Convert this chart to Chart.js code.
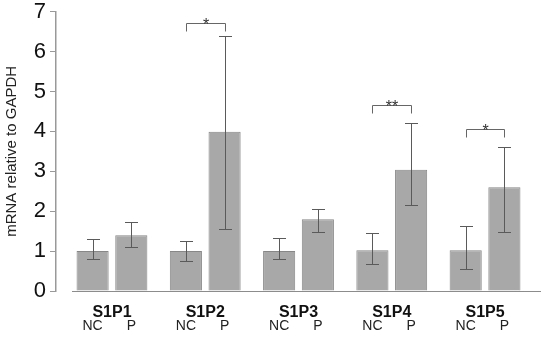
<!DOCTYPE html>
<html>
<head>
<meta charset="utf-8">
<script src="https://cdn.jsdelivr.net/npm/chart.js@4.4.1/dist/chart.umd.min.js"></script>
<style>
  html, body { margin: 0; padding: 0; background: #fff; }
  #wrap { width: 550px; height: 341px; }
</style>
</head>
<body>
<div id="wrap"><canvas id="grafico" width="550" height="341"></canvas></div>
<script>
// Grupos y medias
const grupos = ["S1P1", "S1P2", "S1P3", "S1P4", "S1P5"];
const subEtiquetas = ["NC", "P"];
const mediasNC = [1.0, 1.0, 1.0, 1.02, 1.02];
const mediasP = [1.40, 3.99, 1.80, 3.04, 2.60];

// Barras de error (extremo superior / inferior)
const altoNC = [1.30, 1.25, 1.33, 1.46, 1.63];
const bajoNC = [0.81, 0.75, 0.79, 0.68, 0.56];
const altoP = [1.73, 6.38, 2.05, 4.22, 3.60];
const bajoP = [1.11, 1.55, 1.48, 2.16, 1.49];

// Significancia
const marcas = ["", "*", "", "**", "*"];
const alturaCorchete = [null, 6.72, null, 4.67, 4.06];

const ticksY = [0, 1, 2, 3, 4, 5, 6, 7];

const FUENTE = "'Liberation Sans', Arial, sans-serif";

// Barras de error
const pluginErrores = {
    id: "errores",
    afterDatasetsDraw(chart) {
        const ctx = chart.ctx;
        const y = chart.scales.y;
        const pares = [[altoNC, bajoNC], [altoP, bajoP]];
        ctx.save();
        ctx.strokeStyle = "#5a5a5a";
        ctx.lineWidth = 1;
        chart.data.datasets.forEach((ds, d) => {
            const meta = chart.getDatasetMeta(d);
            meta.data.forEach((bar, i) => {
                const x = Math.round(bar.x) + 0.5;
                const yHi = Math.round(y.getPixelForValue(pares[d][0][i])) + 0.5;
                const yLo = Math.round(y.getPixelForValue(pares[d][1][i])) + 0.5;
                ctx.beginPath();
                ctx.moveTo(x, yHi);
                ctx.lineTo(x, yLo);
                ctx.moveTo(x - 6.5, yHi);
                ctx.lineTo(x + 6.5, yHi);
                ctx.moveTo(x - 6.5, yLo);
                ctx.lineTo(x + 6.5, yLo);
                ctx.stroke();
            });
        });
        ctx.restore();
    }
};

// Corchetes de significancia, línea base y etiquetas NC / P
const pluginExtras = {
    id: "extras",
    afterDraw(chart) {
        const ctx = chart.ctx;
        const area = chart.chartArea;
        const y = chart.scales.y;
        const metaNC = chart.getDatasetMeta(0);
        const metaP = chart.getDatasetMeta(1);
        ctx.save();

        // línea base
        ctx.strokeStyle = "#8c8c8c";
        ctx.lineWidth = 1;
        ctx.beginPath();
        ctx.moveTo(area.left + 16, Math.round(area.bottom) + 0.5);
        ctx.lineTo(area.right, Math.round(area.bottom) + 0.5);
        ctx.stroke();

        // corchetes
        ctx.strokeStyle = "#666";
        ctx.fillStyle = "#333";
        ctx.font = "16px " + FUENTE;
        ctx.textAlign = "center";
        ctx.textBaseline = "alphabetic";
        grupos.forEach((g, i) => {
            if (!marcas[i]) return;
            const x1 = Math.round(metaNC.data[i].x) + 0.5;
            const x2 = Math.round(metaP.data[i].x) + 0.5;
            const yc = Math.round(y.getPixelForValue(alturaCorchete[i])) + 0.5;
            ctx.beginPath();
            ctx.moveTo(x1, yc + 8);
            ctx.lineTo(x1, yc);
            ctx.lineTo(x2, yc);
            ctx.lineTo(x2, yc + 8);
            ctx.stroke();
            ctx.fillText(marcas[i], (x1 + x2) / 2, yc + 6);
        });

        // NC / P
        ctx.fillStyle = "#222";
        ctx.font = "14px " + FUENTE;
        ctx.textBaseline = "middle";
        [metaNC, metaP].forEach((meta, d) => {
            meta.data.forEach(bar => {
                ctx.fillText(subEtiquetas[d], bar.x, area.bottom + 35);
            });
        });
        ctx.restore();
    }
};

function crearGrafico() {
    const ctx = document.getElementById("grafico").getContext("2d");
    new Chart(ctx, {
        type: "bar",
        data: {
            datasets: [
                {
                    label: "NC",
                    data: mediasNC.map((v, i) => ({ x: i + 1, y: v })),
                    backgroundColor: "#a8a8a8",
                    borderColor: "#878787",
                    borderWidth: 1
                },
                {
                    label: "P",
                    data: mediasP.map((v, i) => ({ x: i + 1, y: v })),
                    backgroundColor: "#a8a8a8",
                    borderColor: "#878787",
                    borderWidth: 1
                }
            ]
        },
        options: {
            responsive: false,
            animation: false,
            categoryPercentage: 0.83,
            barPercentage: 0.83,
            layout: { padding: { left: 0, right: 9, top: 0, bottom: 0 } },
            plugins: {
                legend: { display: false },
                tooltip: { enabled: false }
            },
            scales: {
                x: {
                    type: "linear",
                    offset: false,
                    min: 0.40,
                    max: 5.60,
                    grid: { display: false },
                    border: { display: false },
                    afterBuildTicks: s => { s.ticks = grupos.map((g, i) => ({ value: i + 1 })); },
                    afterFit: s => { s.height = 50; },
                    ticks: {
                        autoSkip: false,
                        maxRotation: 0,
                        padding: 4,
                        color: "#111",
                        font: { family: FUENTE, size: 16, weight: "bold" },
                        callback: v => grupos[v - 1]
                    }
                },
                y: {
                    min: 0,
                    max: 7,
                    afterBuildTicks: s => { s.ticks = ticksY.map(v => ({ value: v })); },
                    afterFit: s => { s.width = 56; },
                    grid: {
                        drawOnChartArea: false,
                        tickLength: 6,
                        color: "#999"
                    },
                    border: { color: "#999", width: 1.5 },
                    ticks: {
                        padding: 4,
                        color: "#111",
                        font: { family: FUENTE, size: 22, lineHeight: 0.7 }
                    },
                    title: {
                        display: true,
                        text: "mRNA relative to GAPDH",
                        color: "#222",
                        padding: { top: 3, bottom: 0 },
                        font: { family: FUENTE, size: 15 }
                    }
                }
            }
        },
        plugins: [pluginErrores, pluginExtras]
    });
}

crearGrafico();
</script>
</body>
</html>
